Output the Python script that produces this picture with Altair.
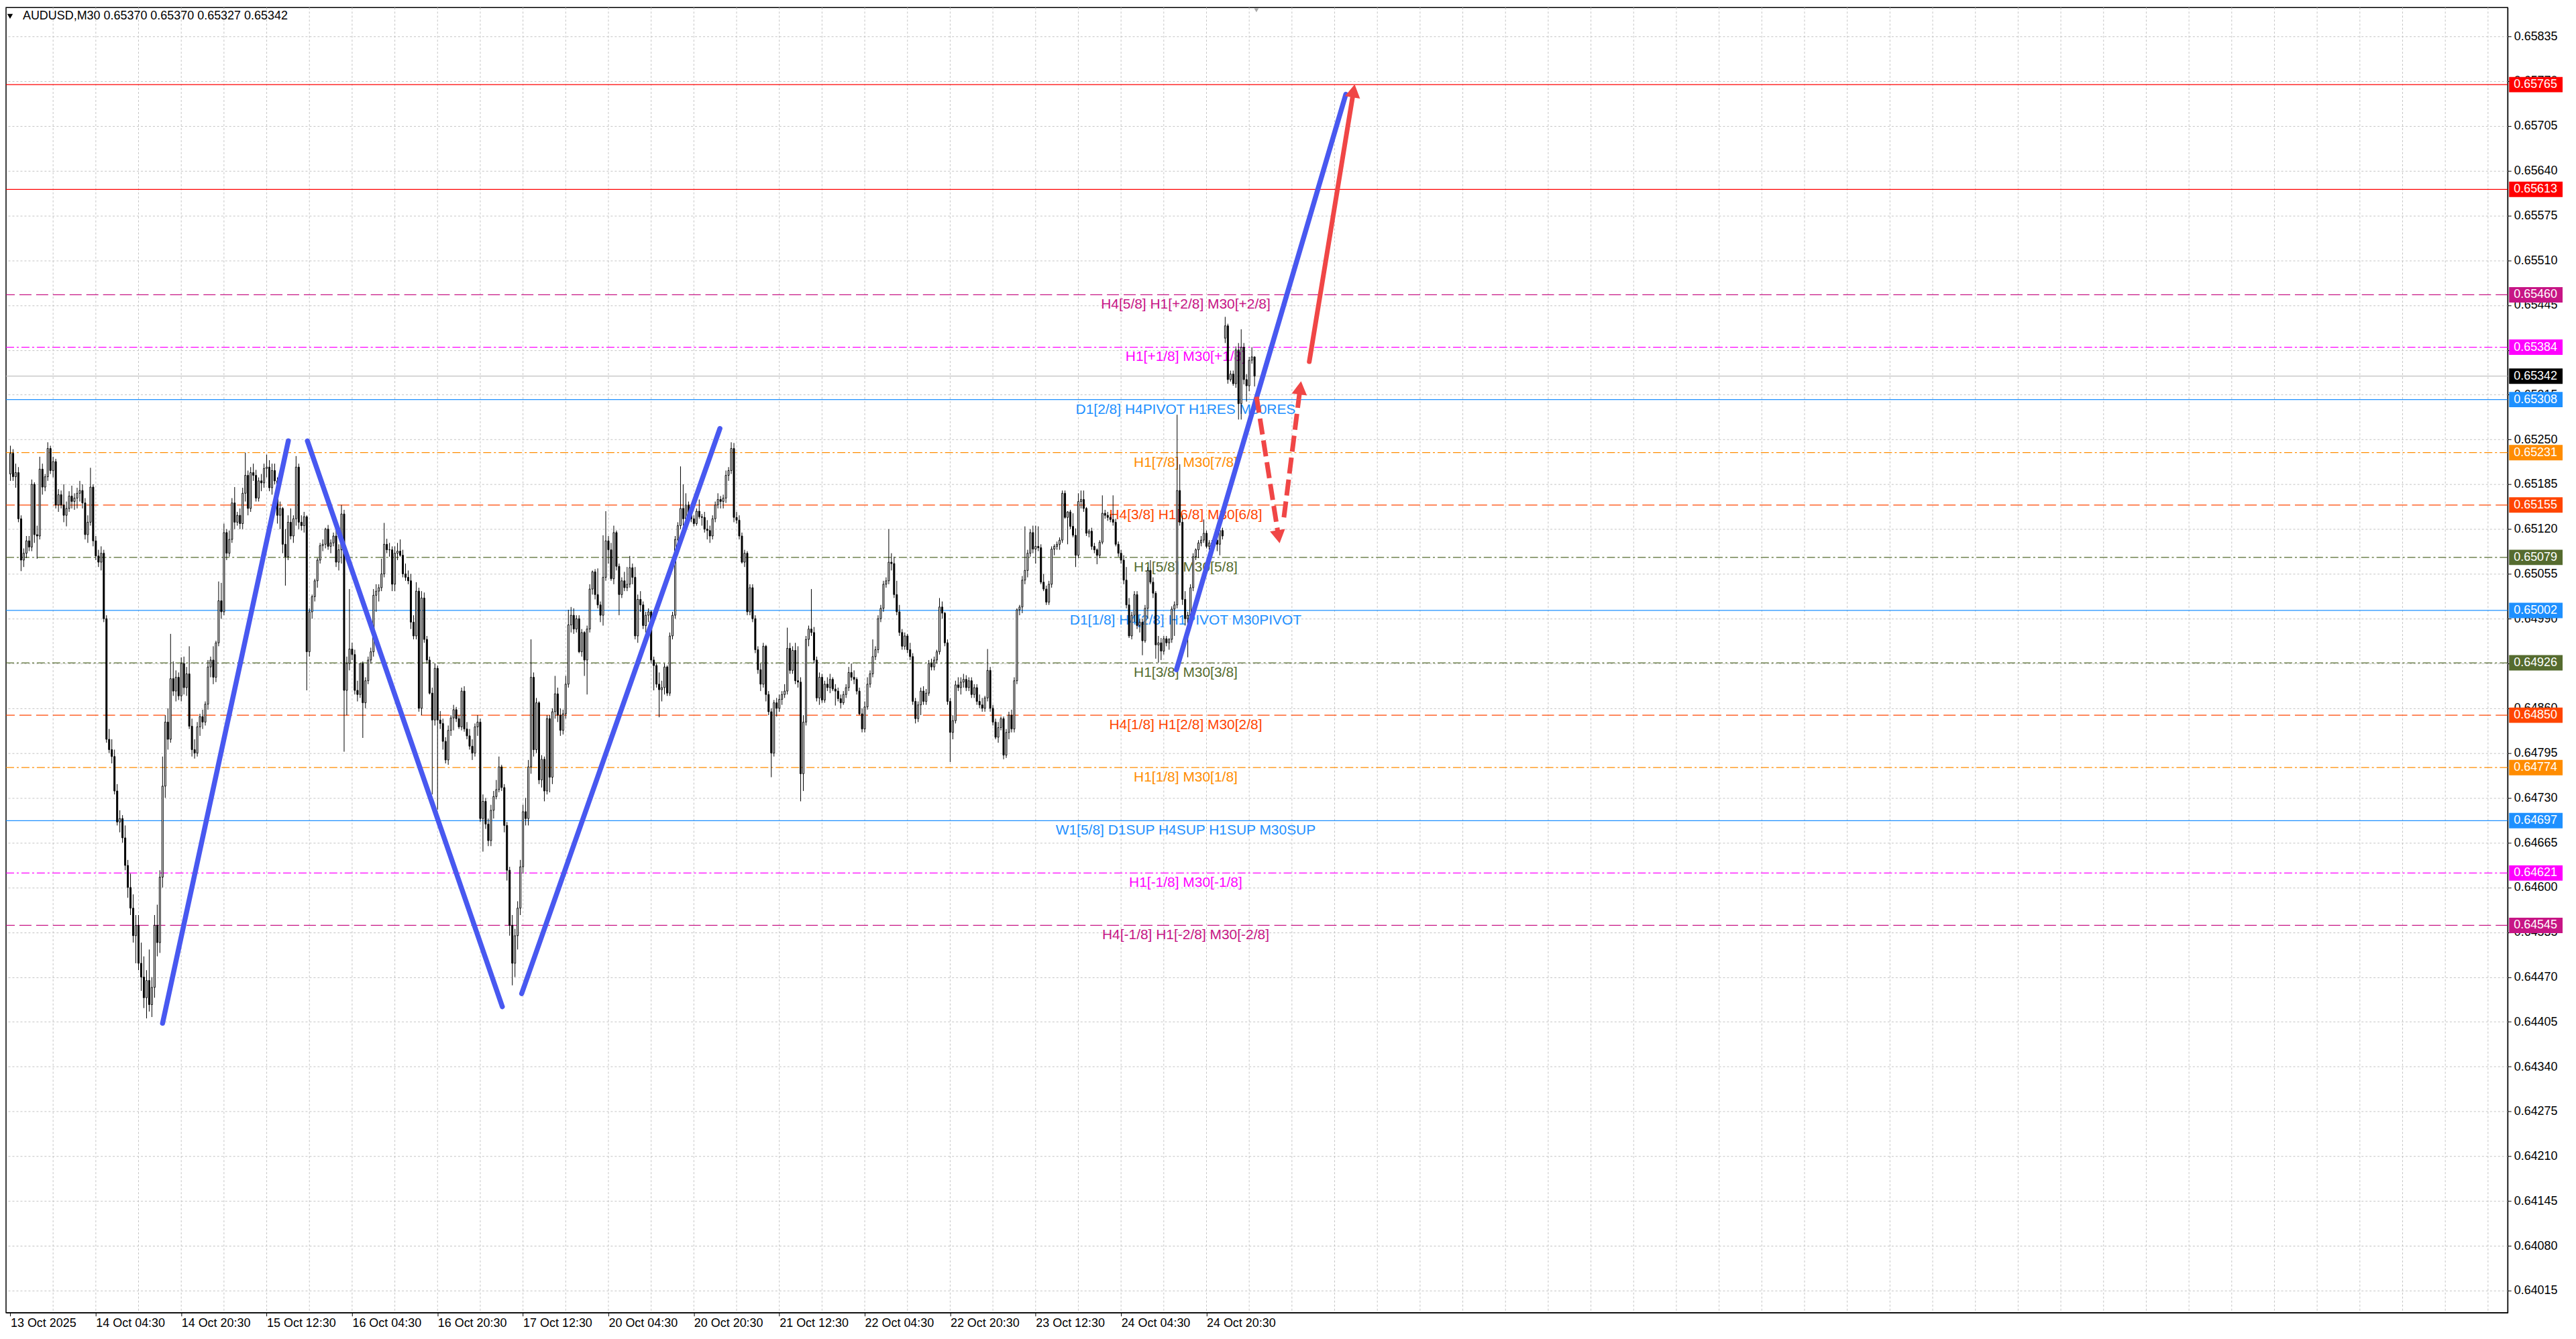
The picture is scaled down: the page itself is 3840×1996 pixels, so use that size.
import altair as alt
import pandas as pd

# ---------------- candle data (points, 1 point = 0.00001) ----------------
OPEN = [
65200,65230,65196,65202,65135,65075,65085,65103,65094,65185,
65112,65110,65207,65181,65196,65237,65205,65218,65155,65170,
65155,65140,65150,65168,65160,65165,65172,65176,65158,65112,
65130,65181,65103,65081,65072,65085,64990,64815,64800,64790,
64740,64695,64700,64672,64632,64600,64570,64530,64545,64490,
64470,64440,64465,64430,64455,64545,64520,64615,64747,64840,
64815,64903,64885,64905,64878,64925,64890,64910,64834,64800,
64795,64833,64848,64840,64866,64920,64930,64905,64955,65016,
65000,65115,65085,65105,65158,65130,65140,65128,65172,65198,
65150,65202,65198,65165,65190,65187,65208,65210,65180,65205,
65190,65140,65150,65098,65080,65130,65110,65135,65210,65130,
65125,65138,64942,65000,65022,65045,65075,65096,65098,65120,
65095,65100,65110,65072,65090,65142,64886,64925,64946,64938,
64886,64880,64925,64868,64900,64930,64942,65024,65030,65035,
65055,65098,65090,65090,65040,65085,65088,65082,65055,65050,
65045,64985,64965,65030,64860,65020,64960,64930,64882,64843,
64918,64843,64838,64812,64785,64828,64846,64858,64845,64833,
64885,64830,64820,64805,64795,64833,64840,64700,64725,64692,
64668,64712,64732,64742,64775,64745,64690,64625,64545,64490,
64530,64570,64630,64710,64700,64775,64905,64800,64868,64756,
64786,64740,64845,64760,64855,64881,64850,64828,64852,64895,
64981,64995,64975,64990,64942,64970,64930,64975,65033,65058,
65025,65010,64995,65050,65103,65090,65048,65115,65066,65025,
65045,65035,65040,65064,65050,64965,65018,65010,64980,64995,
65000,64930,64922,64895,64887,64890,64920,64882,64965,64995,
65105,65125,65150,65135,65155,65140,65135,65128,65146,65138,
65137,65120,65118,65110,65135,65155,65163,65160,65165,65198,
65205,65237,65137,65133,65110,65072,65085,65000,65035,64990,
64945,64916,64895,64950,64880,64855,64795,64868,64860,64873,
64880,64885,64947,64915,64944,64900,64898,64765,64840,64960,
64975,64970,64930,64875,64905,64872,64895,64890,64902,64888,
64885,64874,64868,64880,64890,64912,64905,64902,64885,64852,
64830,64862,64895,64910,64935,64945,64990,65005,65040,65045,
65072,65070,65025,65000,64970,64950,64965,64945,64935,64870,
64845,64865,64885,64870,64882,64925,64920,64930,64942,65007,
64998,64955,64870,64825,64842,64894,64890,64898,64902,64890,
64900,64880,64890,64870,64865,64860,64875,64915,64860,64840,
64818,64832,64845,64792,64825,64850,64830,64900,65003,65007,
65046,65060,65085,65115,65091,65095,65093,65043,65033,65014,
65040,65091,65095,65098,65104,65172,65137,65145,65124,65111,
65082,65160,65163,65150,65114,65117,65095,65090,65082,65101,
65143,65140,65137,65134,65130,65098,65085,65075,65046,65010,
64965,64995,65025,64980,64985,64958,65005,65060,65043,65027,
64952,64955,64943,64961,64955,64960,65004,65010,65176,65130,
65018,64990,64995,65035,65080,65090,65100,65104,65114,65095,
65100,65098,65104,65098,65118,65397,65415,65337,65345,65331,
65380,65302,65384,65337,65328,65365,65370]
HIGH = [
65241,65236,65215,65210,65140,65092,65110,65110,65192,65188,
65125,65225,65215,65200,65246,65241,65225,65222,65178,65176,
65185,65160,65175,65183,65172,65180,65190,65185,65165,65140,
65209,65185,65110,65090,65095,65090,64995,64830,64815,64800,
64750,64712,64705,64690,64640,64620,64590,64560,64560,64520,
64500,64480,64510,64470,64560,64575,64625,64790,64850,64860,
64968,64928,64915,64912,64934,64935,64920,64950,64845,64815,
64840,64852,64858,64870,64930,64935,64950,64958,65044,65042,
65128,65120,65118,65165,65181,65145,65150,65180,65231,65205,
65210,65215,65206,65195,65200,65215,65228,65220,65215,65215,
65195,65160,65152,65120,65140,65150,65140,65226,65215,65140,
65145,65140,65005,65025,65048,65078,65100,65105,65122,65126,
65105,65115,65120,65098,65155,65148,64935,65033,64955,64945,
64900,64925,64928,64905,64935,64948,65033,65040,65040,65077,
65129,65106,65100,65095,65095,65100,65105,65090,65070,65060,
65055,64995,65043,65035,65030,65028,64965,64935,64890,64925,
64922,64856,64845,64818,64835,64850,64865,64862,64850,64890,
64892,64840,64830,64815,64838,64850,64845,64735,64730,64700,
64720,64740,64756,64790,64778,64750,64695,64630,64560,64540,
64580,64640,64720,64730,64785,64960,64912,64875,64870,64792,
64790,64850,64850,64860,64907,64890,64860,64858,64907,65003,
65007,65005,64995,64995,64975,64972,64980,65040,65060,65062,
65063,65015,65111,65146,65110,65100,65125,65118,65070,65050,
65058,65065,65081,65070,65065,65025,65030,65015,65000,65005,
65002,64935,64925,64912,64900,64925,64922,64970,65000,65110,
65130,65211,65185,65172,65160,65148,65140,65150,65163,65142,
65145,65133,65125,65140,65160,65172,65168,65170,65205,65210,
65246,65245,65145,65140,65115,65090,65088,65040,65040,64995,
64950,64925,64955,64952,64885,64860,64872,64875,64880,64885,
64895,64977,64955,64950,64955,64950,64905,64850,64965,64980,
65033,64978,64935,64912,64910,64900,64905,64910,64905,64895,
64890,64880,64885,64895,64920,64925,64915,64905,64890,64860,
64870,64905,64915,64960,64950,64995,65010,65045,65050,65120,
65085,65080,65045,65010,64975,64970,64968,64955,64940,64875,
64870,64890,64892,64888,64930,64932,64935,64945,65020,65015,
65000,64960,64875,64850,64900,64905,64905,64910,64908,64905,
64905,64895,64895,64880,64875,64878,64946,64920,64865,64845,
64840,64848,64848,64830,64855,64858,64905,65005,65010,65052,
65124,65090,65120,65125,65125,65124,65098,65055,65038,65045,
65095,65098,65102,65108,65176,65176,65146,65148,65143,65121,
65172,65176,65176,65152,65120,65122,65100,65092,65104,65169,
65148,65145,65142,65169,65135,65102,65090,65082,65065,65020,
65000,65030,65030,64990,64990,65010,65065,65075,65050,65030,
64965,64962,64965,64965,64962,65008,65015,65286,65214,65140,
65030,65000,65040,65085,65092,65104,65110,65134,65118,65104,
65104,65108,65106,65124,65122,65428,65418,65350,65350,65385,
65390,65410,65390,65345,65370,65384,65370]
LOW = [
65190,65190,65180,65130,65059,65065,65078,65088,65088,65100,
65077,65105,65170,65175,65190,65200,65195,65150,65145,65150,
65130,65124,65145,65150,65148,65150,65160,65150,65105,65100,
65125,65095,65075,65065,65060,64985,64810,64795,64780,64735,
64690,64680,64665,64625,64585,64560,64520,64490,64480,64450,
64425,64410,64420,64412,64440,64500,64505,64600,64730,64800,
64810,64878,64870,64872,64870,64880,64878,64830,64790,64787,
64790,64820,64830,64835,64858,64905,64895,64898,64950,64990,
64995,65075,65080,65100,65120,65125,65120,65120,65160,65140,
65145,65190,65160,65160,65175,65180,65195,65175,65170,65185,
65128,65120,65085,65038,65075,65105,65100,65125,65120,65118,
65115,64886,64935,64990,65015,65035,65070,65088,65092,65090,
65085,65095,65065,65060,65070,64797,64850,64915,64930,64880,
64870,64875,64817,64860,64895,64925,64935,65000,65015,65030,
65050,65085,65080,65030,65030,65075,65080,65050,65045,65040,
64975,64960,64960,64855,64850,64955,64925,64880,64735,64835,
64713,64830,64800,64780,64778,64820,64828,64840,64830,64828,
64826,64815,64800,64785,64790,64820,64695,64652,64685,64660,
64660,64700,64728,64738,64740,64680,64610,64530,64458,64470,
64510,64560,64620,64690,64690,64765,64790,64795,64750,64745,
64725,64735,64738,64750,64845,64840,64820,64822,64845,64890,
64970,64968,64970,64940,64935,64907,64880,64970,65025,65018,
65005,64985,64980,65045,65070,65045,65040,65060,64995,65020,
65030,65030,65035,65040,64960,64955,65000,64975,64970,64985,
64925,64886,64890,64847,64870,64880,64878,64878,64960,64990,
65100,65120,65125,65128,65135,65130,65124,65125,65135,65125,
65115,65105,65100,65105,65130,65150,65150,65150,65158,65190,
65200,65130,65128,65105,65070,65065,64995,64995,64985,64940,
64910,64885,64890,64870,64850,64760,64790,64848,64855,64865,
64875,64880,64910,64910,64895,64890,64725,64740,64835,64950,
64965,64925,64870,64865,64868,64868,64885,64882,64885,64864,
64870,64860,64865,64875,64885,64900,64895,64880,64850,64825,
64825,64858,64890,64905,64930,64940,64985,65000,65035,65040,
65060,65020,64995,64965,64945,64945,64940,64930,64865,64838,
64840,64850,64865,64865,64878,64915,64915,64925,64938,64990,
64950,64865,64782,64815,64838,64885,64880,64890,64885,64885,
64875,64875,64865,64860,64855,64855,64870,64855,64835,64815,
64810,64828,64786,64788,64815,64825,64825,64895,64995,64998,
65040,65050,65080,65085,65070,65088,65040,65030,65010,65010,
65035,65082,65090,65090,65100,65135,65098,65120,65108,65065,
65078,65150,65145,65110,65108,65090,65085,65069,65078,65098,
65135,65132,65130,65125,65095,65080,65070,65040,65005,64962,
64960,64985,64975,64970,64937,64955,64990,65040,65020,64932,
64926,64930,64938,64950,64945,64955,64965,65005,65125,65010,
64980,64934,64990,65030,65075,65078,65095,65100,65092,65090,
65093,65095,65088,65082,65105,65390,65331,65334,65328,65325,
65279,65279,65330,65305,65320,65360,65327]
CLOSE = [
65230,65196,65202,65135,65075,65085,65103,65094,65185,65112,
65110,65207,65181,65196,65237,65205,65218,65155,65170,65155,
65140,65150,65168,65160,65165,65172,65176,65158,65112,65130,
65181,65103,65081,65072,65085,64990,64815,64800,64790,64740,
64695,64700,64672,64632,64600,64570,64530,64545,64490,64470,
64440,64465,64430,64455,64545,64520,64615,64747,64840,64815,
64903,64885,64905,64878,64925,64890,64910,64834,64800,64795,
64833,64848,64840,64866,64920,64930,64905,64955,65016,65000,
65115,65085,65105,65158,65130,65140,65128,65172,65198,65150,
65202,65198,65165,65190,65187,65208,65210,65180,65205,65190,
65140,65150,65098,65080,65130,65110,65135,65210,65130,65125,
65138,64942,65000,65022,65045,65075,65096,65098,65120,65095,
65100,65110,65072,65090,65142,64886,64925,64946,64938,64886,
64880,64925,64868,64900,64930,64942,65024,65030,65035,65055,
65098,65090,65090,65040,65085,65088,65082,65055,65050,65045,
64985,64965,65030,64860,65020,64960,64930,64882,64843,64918,
64843,64838,64812,64785,64828,64846,64858,64845,64833,64885,
64830,64820,64805,64795,64833,64840,64700,64725,64692,64668,
64712,64732,64742,64775,64745,64690,64625,64545,64490,64530,
64570,64630,64710,64700,64775,64905,64800,64868,64756,64786,
64740,64845,64760,64855,64881,64850,64828,64852,64895,64981,
64995,64975,64990,64942,64970,64930,64975,65033,65058,65025,
65010,64995,65050,65103,65090,65048,65115,65066,65025,65045,
65035,65040,65064,65050,64965,65018,65010,64980,64995,65000,
64930,64922,64895,64887,64890,64920,64882,64965,64995,65105,
65125,65150,65135,65155,65140,65135,65128,65146,65138,65137,
65120,65118,65110,65135,65155,65163,65160,65165,65198,65205,
65237,65137,65133,65110,65072,65085,65000,65035,64990,64945,
64916,64895,64950,64880,64855,64795,64868,64860,64873,64880,
64885,64947,64915,64944,64900,64898,64765,64840,64960,64975,
64970,64930,64875,64905,64872,64895,64890,64902,64888,64885,
64874,64868,64880,64890,64912,64905,64902,64885,64852,64830,
64862,64895,64910,64935,64945,64990,65005,65040,65045,65072,
65070,65025,65000,64970,64950,64965,64945,64935,64870,64845,
64865,64885,64870,64882,64925,64920,64930,64942,65007,64998,
64955,64870,64825,64842,64894,64890,64898,64902,64890,64900,
64880,64890,64870,64865,64860,64875,64915,64860,64840,64818,
64832,64845,64792,64825,64850,64830,64900,65003,65007,65046,
65060,65085,65115,65091,65095,65093,65043,65033,65014,65040,
65091,65095,65098,65104,65172,65137,65145,65124,65111,65082,
65160,65163,65150,65114,65117,65095,65090,65082,65101,65143,
65140,65137,65134,65130,65098,65085,65075,65046,65010,64965,
64995,65025,64980,64985,64958,65005,65060,65043,65027,64952,
64955,64943,64961,64955,64960,65004,65010,65176,65130,65018,
64990,64995,65035,65080,65090,65100,65104,65114,65095,65100,
65098,65104,65098,65118,65110,65415,65337,65345,65331,65380,
65302,65384,65337,65328,65365,65370,65342]

SYMBOL = "AUDUSD,M30"

# ---------------- axes ----------------
X_LABELS = ["13 Oct 2025", "14 Oct 04:30", "14 Oct 20:30", "15 Oct 12:30",
            "16 Oct 04:30", "16 Oct 20:30", "17 Oct 12:30", "20 Oct 04:30",
            "20 Oct 20:30", "21 Oct 12:30", "22 Oct 04:30", "22 Oct 20:30",
            "23 Oct 12:30", "24 Oct 04:30", "24 Oct 20:30"]
BARS_PER_LABEL = 32
GRID_STEP = 16
Y_TICKS = [0.64015, 0.64080, 0.64145, 0.64210, 0.64275, 0.64340, 0.64405,
           0.64470, 0.64535, 0.64600, 0.64665, 0.64730, 0.64795, 0.64860,
           0.64925, 0.64990, 0.65055, 0.65120, 0.65185, 0.65250, 0.65315,
           0.65380, 0.65445, 0.65510, 0.65575, 0.65640, 0.65705, 0.65770,
           0.65835]

# ---------------- horizontal levels ----------------
LEVEL_PRICES = [0.65765, 0.65613, 0.65460, 0.65384, 0.65308, 0.65231, 0.65155,
                0.65079, 0.65002, 0.64926, 0.64850, 0.64774, 0.64697, 0.64621,
                0.64545]
LEVEL_COLORS = ["#FF0000", "#FF0000", "#C71585", "#FF00FF", "#1E90FF", "#FF8C00",
                "#FF4500", "#556B2F", "#1E90FF", "#556B2F", "#FF4500", "#FF8C00",
                "#1E90FF", "#FF00FF", "#C71585"]
LEVEL_STYLES = ["solid", "solid", "dash", "dashdot", "solid", "dashdot", "dash",
                "dashdot", "solid", "dashdot", "dash", "dashdot", "solid",
                "dashdot", "dash"]
LEVEL_TEXTS = ["", "", "H4[5/8] H1[+2/8] M30[+2/8]", "H1[+1/8] M30[+1/8]",
               "D1[2/8] H4PIVOT H1RES M30RES", "H1[7/8] M30[7/8]",
               "H4[3/8] H1[6/8] M30[6/8]", "H1[5/8] M30[5/8]",
               "D1[1/8] H4[2/8] H1PIVOT M30PIVOT", "H1[3/8] M30[3/8]",
               "H4[1/8] H1[2/8] M30[2/8]", "H1[1/8] M30[1/8]",
               "W1[5/8] D1SUP H4SUP H1SUP M30SUP", "H1[-1/8] M30[-1/8]",
               "H4[-1/8] H1[-2/8] M30[-2/8]"]
LABEL_BAR = 440.2
BID_PRICE = 0.65342
SHIFT_MARK_BAR = 466.7

# ---------------- hand-drawn projection lines ----------------
BLUE_SEG = [0, 0, 1, 1, 2, 2, 3, 3]
BLUE_BAR = [57.0, 104.1, 111.25, 184.25, 191.5, 265.75, 436.75, 500.2]
BLUE_PRICE = [0.64403, 0.65248, 0.65248, 0.64427, 0.64446, 0.65266, 0.64916, 0.65751]
RED_BAR = [486.5, 503.1]
RED_PRICE = [0.65363, 0.65756]
RED_DASH_SEG = [0, 0, 1, 1]
RED_DASH_BAR = [466.75, 475.0, 477.0, 483.1]
RED_DASH_PRICE = [0.65312, 0.65109, 0.65137, 0.65325]
HEAD_BAR = [503.1, 475.0, 483.1]
HEAD_PRICE = [0.65756, 0.65109, 0.65325]
HEAD_ANGLE = [9.5, 170.7, 7.5]

# ---------------- layout ----------------
W, H = 3738, 1950
BAR_PX = 4
X_DOMAIN = [-0.375, -0.375 + W / BAR_PX]
Y_DOMAIN = [0.6398302, 0.6587676]
FONT = "Liberation Sans"
BLUE = "#4858F0"
RED = "#F04646"

xscale = alt.Scale(domain=X_DOMAIN, zero=False, nice=False)
yscale = alt.Scale(domain=Y_DOMAIN, zero=False, nice=False)
label_expr = ("[" + ",".join("'%s'" % s for s in X_LABELS) + "][round(datum.value / %d)]"
              % BARS_PER_LABEL)
xaxis = alt.Axis(values=[i * BARS_PER_LABEL for i in range(len(X_LABELS))],
                 labelExpr=label_expr, title=None, grid=False, labelAlign="left",
                 labelBaseline="top", labelPadding=2, tickSize=5, labelFont=FONT,
                 labelFontSize=18, labelColor="black", tickColor="black",
                 domainColor="black", labelOverlap=False, labelFlush=False)
yaxis = alt.Axis(orient="right", values=Y_TICKS, format=".5f", title=None, grid=True,
                 gridDash=[3, 3], gridColor="#C4C4C4", gridWidth=1, tickSize=5,
                 labelPadding=4, labelFont=FONT, labelFontSize=18, labelColor="black",
                 tickColor="black", domainColor="black", labelOverlap=False,
                 labelFlush=False)


def X(f):
    return alt.X(f, type="quantitative", scale=xscale, axis=xaxis)


def Y(f):
    return alt.Y(f, type="quantitative", scale=yscale, axis=yaxis)


n = len(CLOSE)
assert len(OPEN) == len(HIGH) == len(LOW) == n
candles = pd.DataFrame({
    "bar": list(range(n)),
    "open": [v / 1e5 for v in OPEN],
    "high": [v / 1e5 for v in HIGH],
    "low": [v / 1e5 for v in LOW],
    "close": [v / 1e5 for v in CLOSE],
    "fillc": ["white" if c >= o else "black" for o, c in zip(OPEN, CLOSE)],
})

levels = pd.DataFrame({"price": LEVEL_PRICES, "color": LEVEL_COLORS,
                       "style": LEVEL_STYLES, "text": LEVEL_TEXTS})
levels["lbar"] = LABEL_BAR

layers = []

# vertical grid
grid_df = pd.DataFrame({"g": list(range(GRID_STEP, int(X_DOMAIN[1]) + 1, GRID_STEP))})
layers.append(alt.Chart(grid_df).mark_rule(color="#C4C4C4", strokeWidth=1,
                                           strokeDash=[3, 3]).encode(x=X("g")))

# level lines
DASHES = {"solid": None, "dash": [18, 7], "dashdot": [12, 4, 3, 4]}
for st, dash in DASHES.items():
    kw = {} if dash is None else {"strokeDash": dash}
    sub = levels[levels["style"] == st]
    layers.append(alt.Chart(sub).mark_rule(strokeWidth=1.3, **kw).encode(
        y=Y("price"), color=alt.Color("color:N", scale=None)))

# bid line
bid_df = pd.DataFrame({"price": [BID_PRICE]})
layers.append(alt.Chart(bid_df).mark_rule(color="#C0C0C0", strokeWidth=1.3).encode(
    y=Y("price")))

# level texts
txt = levels[levels["text"] != ""]
layers.append(alt.Chart(txt).mark_text(align="center", baseline="alphabetic", dy=21,
                                       fontSize=21, font=FONT).encode(
    x=X("lbar"), y=Y("price"), text="text:N", color=alt.Color("color:N", scale=None)))

# candles
layers.append(alt.Chart(candles).mark_rule(color="black", strokeWidth=1, clip=True).encode(
    x=X("bar"), y=Y("low"), y2="high"))
layers.append(alt.Chart(candles).mark_bar(width=2, stroke="black", strokeWidth=1,
                                          clip=True).encode(
    x=X("bar"), y=Y("open"), y2="close", fill=alt.Fill("fillc:N", scale=None)))

# projection lines
blue_df = pd.DataFrame({"seg": BLUE_SEG, "bar": BLUE_BAR, "price": BLUE_PRICE})
layers.append(alt.Chart(blue_df).mark_line(color=BLUE, strokeWidth=7.5, strokeCap="round",
                                           clip=True).encode(
    x=X("bar"), y=Y("price"), detail="seg:N"))
red_df = pd.DataFrame({"bar": RED_BAR, "price": RED_PRICE})
layers.append(alt.Chart(red_df).mark_line(color=RED, strokeWidth=7, strokeCap="round",
                                          clip=True).encode(x=X("bar"), y=Y("price")))
rdash_df = pd.DataFrame({"seg": RED_DASH_SEG, "bar": RED_DASH_BAR, "price": RED_DASH_PRICE})
layers.append(alt.Chart(rdash_df).mark_line(color=RED, strokeWidth=7, strokeDash=[24, 9],
                                            clip=True).encode(
    x=X("bar"), y=Y("price"), detail="seg:N"))
head_df = pd.DataFrame({"bar": HEAD_BAR, "price": HEAD_PRICE, "ang": HEAD_ANGLE})
layers.append(alt.Chart(head_df).mark_point(shape="triangle-up", filled=True, color=RED,
                                            opacity=1, size=520, strokeWidth=0,
                                            clip=True).encode(
    x=X("bar"), y=Y("price"), angle=alt.Angle("ang:Q", scale=None)))

# price boxes on the right axis
boxes = pd.DataFrame({"price": LEVEL_PRICES + [BID_PRICE],
                      "color": LEVEL_COLORS + ["#000000"]})
layers.append(alt.Chart(boxes).mark_rule(strokeWidth=23, strokeCap="butt").encode(
    x=alt.value(W + 2), x2=alt.value(W + 82), y=Y("price"),
    color=alt.Color("color:N", scale=None)))
layers.append(alt.Chart(boxes).mark_text(align="left", baseline="middle", fontSize=18,
                                         font=FONT, color="white").encode(
    x=alt.value(W + 9), y=Y("price"), text=alt.Text("price:Q", format=".5f")))

# chart shift marker at top
shift_df = pd.DataFrame({"bar": [SHIFT_MARK_BAR]})
layers.append(alt.Chart(shift_df).mark_point(shape="triangle-down", filled=True,
                                             color="#A8A8A8", opacity=1, size=45,
                                             strokeWidth=0).encode(
    x=X("bar"), y=alt.value(4)))

# title
title_str = SYMBOL + "  " + " ".join("%.5f" % (v[-1] / 1e5) for v in (OPEN, HIGH, LOW, CLOSE))
title_df = pd.DataFrame({"t": [title_str]})
layers.append(alt.Chart(title_df).mark_text(align="left", baseline="middle", fontSize=18,
                                            font=FONT, color="black").encode(
    x=alt.value(25), y=alt.value(13), text="t:N"))
layers.append(alt.Chart(title_df).mark_point(shape="triangle-down", filled=True,
                                             color="black", opacity=1, size=70,
                                             strokeWidth=0).encode(
    x=alt.value(6), y=alt.value(13)))

chart = alt.layer(*layers).properties(
    width=W, height=H, padding=0, background="white"
).configure_view(stroke="black", strokeWidth=1.5)

chart.save("out.html", embed_options={"renderer": "svg", "actions": False})
